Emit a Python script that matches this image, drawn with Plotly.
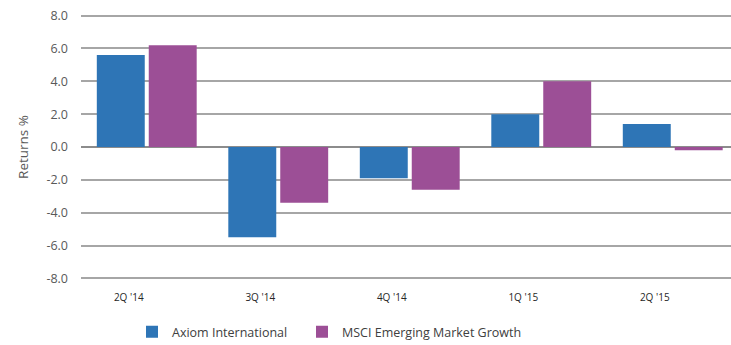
import plotly.graph_objects as go

quarters = ["2Q '14", "3Q '14", "4Q '14", "1Q '15", "2Q '15"]
axiom_international = [5.6, -5.5, -1.9, 2.0, 1.4]
msci_em_growth = [6.2, -3.4, -2.6, 4.0, -0.2]
y_ticks = [-8, -6, -4, -2, 0, 2, 4, 6, 8]

BLUE = "#2E75B6"
PURPLE = "#9C4F96"
FONT = "Open Sans, Lato, sans-serif"

fig = go.Figure()
fig.add_trace(go.Bar(name="Axiom International", x=quarters, y=axiom_international,
                     marker=dict(color=BLUE, line=dict(width=0)), legend="legend"))
fig.add_trace(go.Bar(name="MSCI Emerging Market Growth", x=quarters, y=msci_em_growth,
                     marker=dict(color=PURPLE, line=dict(width=0)), legend="legend2"))

legend_style = dict(orientation="h", y=-0.14, xanchor="left", yanchor="top",
                    font=dict(size=12.5, color="#404040", family=FONT),
                    itemwidth=30, bgcolor="rgba(0,0,0,0)")

fig.update_layout(
    width=731, height=345,
    margin=dict(l=81, r=0, t=14, b=65, autoexpand=False),
    paper_bgcolor="white", plot_bgcolor="white",
    barmode="group", bargap=0.21, bargroupgap=0.077,
    font=dict(family=FONT, color="#595959"),
    showlegend=True,
    legend=dict(x=(132 - 81) / 650, **legend_style),
    legend2=dict(x=(302 - 81) / 650, **legend_style),
)
fig.update_xaxes(
    type="category", range=[-0.5, 4.443], showgrid=False, zeroline=False,
    showline=False, ticks="",
    tickfont=dict(size=10, color="#262626", family=FONT),
    ticklabelshift=-18, ticklabelstandoff=10,
)
fig.update_yaxes(
    range=[-8.1, 8.1], tickvals=y_ticks,
    ticktext=[f"{v:.1f}" for v in y_ticks],
    showgrid=True, gridcolor="#A6A6A6", gridwidth=1.5,
    zeroline=True, zerolinecolor="#8C8C8C", zerolinewidth=2,
    showline=False, ticks="", ticklabelstandoff=12,
    tickfont=dict(size=12.5, color="#595959"),
    title=dict(text="Returns %", font=dict(size=13.5, color="#595959"), standoff=14),
)

fig.write_html("out.html")
